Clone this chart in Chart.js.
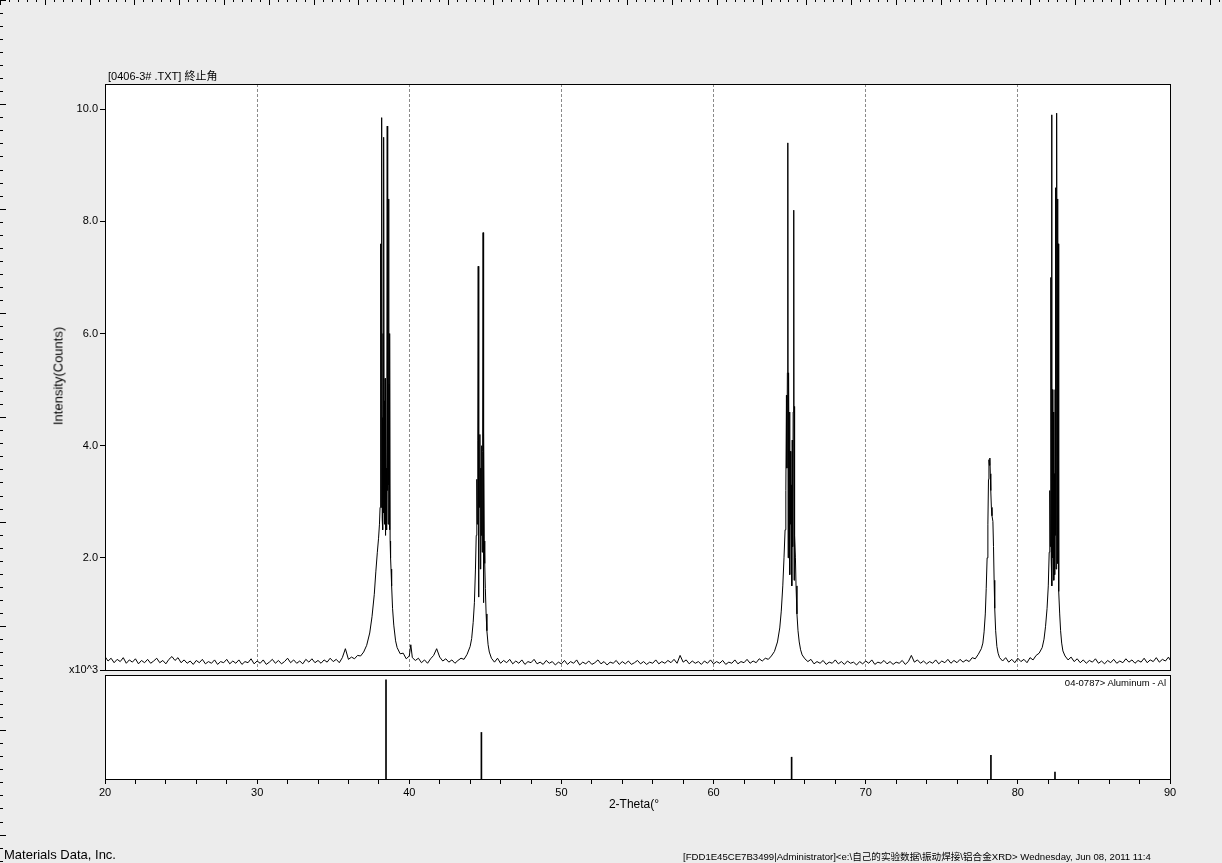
<!DOCTYPE html>
<html>
<head>
<meta charset="utf-8">
<title>XRD scan</title>
<script src="https://cdn.jsdelivr.net/npm/chart.js@4.4.1/dist/chart.umd.min.js"></script>
<style>
  body { margin: 0; background: #ececec; }
  #page { position: relative; width: 1222px; height: 863px; overflow: hidden; background: #ececec;
          font-family: "Liberation Sans", Arial, "Noto Sans CJK SC", sans-serif; color: #000; }
  #page canvas { position: absolute; left: 0; top: 0; }
  .txt { position: absolute; white-space: nowrap; z-index: 5; }
</style>
</head>
<body>
<div id="page">
  <canvas id="scanChart" width="1222" height="863"></canvas>
  <canvas id="refChart" width="1222" height="863"></canvas>

  <div class="txt" style="left:108px; top:70px; font-size:11px; line-height:12px;">[0406-3# .TXT] 終止角</div>
  <div class="txt" style="left:58px; top:376px; font-size:13px; transform:translate(-50%,-50%) rotate(-90deg);">Intensity(Counts)</div>
  <div class="txt" style="left:634px; top:804px; font-size:12px; transform:translate(-50%,-50%);">2-Theta(°</div>
  <div class="txt" style="right:56px; top:677px; font-size:9.5px; line-height:11px;">04-0787&gt; Aluminum - Al</div>
  <div class="txt" style="left:4px; top:848px; font-size:13px; line-height:14px;">Materials Data, Inc.</div>
  <div class="txt" style="left:683px; top:851px; font-size:9.6px; line-height:11px;">[FDD1E45CE7B3499|Administrator]&lt;e:\自己的实验数据\振动焊接\铝合金XRD&gt; Wednesday, Jun 08, 2011 11:4</div>
</div>

<script>
// measured scan, 2-theta (deg) and intensity (x10^3 counts)
const scanTheta = [
  20.0, 20.2, 20.4, 20.6, 20.8, 21.0, 21.2, 21.4, 21.6, 21.8,
  22.0, 22.2, 22.4, 22.6, 22.8, 23.0, 23.2, 23.4, 23.6, 23.8,
  24.0, 24.2, 24.4, 24.6, 24.8, 25.0, 25.2, 25.4, 25.6, 25.8,
  26.0, 26.2, 26.4, 26.6, 26.8, 27.0, 27.2, 27.4, 27.6, 27.8,
  28.0, 28.2, 28.4, 28.6, 28.8, 29.0, 29.2, 29.4, 29.6, 29.8,
  30.0, 30.2, 30.4, 30.6, 30.8, 31.0, 31.2, 31.4, 31.6, 31.8,
  32.0, 32.2, 32.4, 32.6, 32.8, 33.0, 33.2, 33.4, 33.6, 33.8,
  34.0, 34.2, 34.4, 34.6, 34.8, 35.0, 35.2, 35.4, 35.6, 35.8,
  36.0, 36.2, 36.4, 36.6, 36.8,
  37.0, 37.2, 37.4, 37.55, 37.7, 37.8, 37.9, 37.98, 38.04, 38.08,
  38.11, 38.13, 38.15, 38.17, 38.2, 38.22, 38.24, 38.26, 38.28, 38.3,
  38.33, 38.35, 38.37, 38.39, 38.41, 38.43, 38.45, 38.47, 38.5, 38.52,
  38.55, 38.57, 38.59, 38.61, 38.64, 38.66, 38.68, 38.7, 38.72, 38.74,
  38.77, 38.8, 38.84, 38.9, 38.98, 39.1, 39.2, 39.4, 39.6, 39.8,
  40.0, 40.1, 40.2, 40.4, 40.6, 40.8, 41.0, 41.2, 41.4, 41.6,
  41.8, 42.0, 42.2, 42.4, 42.6, 42.8, 43.0, 43.2, 43.4, 43.6,
  43.8, 44.0, 44.1, 44.2, 44.28, 44.35, 44.4, 44.44, 44.47, 44.5,
  44.53, 44.55, 44.58, 44.61, 44.64, 44.67, 44.7, 44.73, 44.76, 44.79,
  44.82, 44.85, 44.87, 44.9, 44.93, 44.96, 45.0, 45.05, 45.1, 45.18,
  45.26, 45.4, 45.6, 45.8, 46.0, 46.2, 46.4, 46.6, 46.8, 47.0,
  47.2, 47.4, 47.6, 47.8, 48.0, 48.2, 48.4, 48.6, 48.8, 49.0,
  49.2, 49.4, 49.6, 49.8, 50.0, 50.2, 50.4, 50.6, 50.8, 51.0,
  51.2, 51.4, 51.6, 51.8, 52.0, 52.2, 52.4, 52.6, 52.8, 53.0,
  53.2, 53.4, 53.6, 53.8, 54.0, 54.2, 54.4, 54.6, 54.8, 55.0,
  55.2, 55.4, 55.6, 55.8, 56.0, 56.2, 56.4, 56.6, 56.8, 57.0,
  57.2, 57.4, 57.6, 57.8, 58.0, 58.2, 58.4, 58.6, 58.8, 59.0,
  59.2, 59.4, 59.6, 59.8, 60.0, 60.2, 60.4, 60.6, 60.8, 61.0,
  61.2, 61.4, 61.6, 61.8, 62.0, 62.2, 62.4, 62.6, 62.8, 63.0,
  63.2, 63.4, 63.6, 63.8, 64.0, 64.2, 64.35, 64.45, 64.55, 64.63,
  64.7, 64.75, 64.79, 64.82, 64.85, 64.88, 64.9, 64.93, 64.96, 64.99,
  65.02, 65.05, 65.08, 65.11, 65.14, 65.17, 65.2, 65.23, 65.27, 65.29,
  65.31, 65.34, 65.38, 65.42, 65.48, 65.55, 65.63, 65.72, 65.82, 66.0,
  66.2, 66.4, 66.6, 66.8, 67.0, 67.2, 67.4, 67.6, 67.8, 68.0,
  68.2, 68.4, 68.6, 68.8, 69.0, 69.2, 69.4, 69.6, 69.8, 70.0,
  70.2, 70.4, 70.6, 70.8, 71.0, 71.2, 71.4, 71.6, 71.8, 72.0,
  72.2, 72.4, 72.6, 72.8, 73.0, 73.2, 73.4, 73.6, 73.8, 74.0,
  74.2, 74.4, 74.6, 74.8, 75.0, 75.2, 75.4, 75.6, 75.8, 76.0,
  76.2, 76.4, 76.6, 76.8, 77.0, 77.2, 77.4, 77.6, 77.7, 77.78,
  77.86, 77.92, 77.98, 78.03, 78.07, 78.1, 78.13, 78.16, 78.19, 78.22,
  78.26, 78.3, 78.36, 78.4, 78.44, 78.48, 78.54, 78.62, 78.7, 78.8,
  79.0, 79.2, 79.4, 79.6, 79.8, 80.0, 80.2, 80.4, 80.6, 80.8,
  81.0, 81.2, 81.4, 81.6, 81.72, 81.82, 81.92, 82.0, 82.06, 82.1,
  82.14, 82.17, 82.19, 82.22, 82.24, 82.27, 82.3, 82.33, 82.36, 82.39,
  82.42, 82.45, 82.47, 82.49, 82.51, 82.53, 82.55, 82.57, 82.59, 82.61,
  82.63, 82.65, 82.67, 82.7, 82.75, 82.81, 82.88, 82.96, 83.1, 83.3,
  83.5, 83.7, 83.9, 84.1, 84.3, 84.5, 84.7, 84.9, 85.1, 85.3,
  85.5, 85.7, 85.9, 86.1, 86.3, 86.5, 86.7, 86.9, 87.1, 87.3,
  87.5, 87.7, 87.9, 88.1, 88.3, 88.5, 88.7, 88.9, 89.1, 89.3,
  89.5, 89.7, 89.9, 90.0
];

const scanCounts = [
  0.24, 0.16, 0.21, 0.13, 0.19, 0.15, 0.22, 0.12, 0.18, 0.14,
  0.20, 0.11, 0.17, 0.13, 0.19, 0.12, 0.16, 0.21, 0.13, 0.17,
  0.11, 0.19, 0.24, 0.17, 0.22, 0.13, 0.18, 0.12, 0.16, 0.10,
  0.17, 0.13, 0.19, 0.11, 0.15, 0.12, 0.18, 0.10, 0.15, 0.13,
  0.19, 0.11, 0.16, 0.12, 0.18, 0.10, 0.15, 0.13, 0.20, 0.11,
  0.16, 0.12, 0.18, 0.10, 0.14, 0.19, 0.12, 0.17, 0.11, 0.15,
  0.21, 0.13, 0.18, 0.12, 0.16, 0.11, 0.19, 0.14, 0.20, 0.13,
  0.17, 0.12, 0.18, 0.14, 0.21, 0.15, 0.19, 0.13, 0.22, 0.38,
  0.19, 0.23, 0.20, 0.26, 0.25,
  0.32, 0.44, 0.66, 0.95, 1.35, 1.75, 2.1, 2.35, 2.6, 2.9,
  4.2, 7.6, 2.9, 5.5, 9.85, 2.7, 4.5, 2.5, 6.0, 2.8,
  9.5, 3.0, 4.8, 2.6, 5.2, 2.4, 4.0, 2.7, 3.6, 2.5,
  9.7, 3.2, 4.9, 2.6, 8.4, 3.3, 5.1, 2.5, 6.0, 2.3,
  2.0, 1.8, 1.5, 1.1, 0.80, 0.52, 0.40, 0.29, 0.30, 0.20,
  0.25, 0.45, 0.22, 0.17, 0.21, 0.13, 0.18, 0.12, 0.20, 0.26,
  0.38, 0.23, 0.16, 0.20, 0.14, 0.18, 0.12, 0.17, 0.21, 0.19,
  0.28, 0.42, 0.56, 0.85, 1.2, 1.8, 2.4, 3.4, 2.6, 4.1,
  7.2, 1.3, 4.0, 2.9, 4.2, 1.8, 3.6, 2.4, 4.0, 2.1,
  3.9, 7.8, 1.2, 4.25, 2.3, 1.9, 1.45, 1.0, 0.70, 0.45,
  0.32, 0.21, 0.14, 0.21, 0.12, 0.17, 0.13, 0.19, 0.11, 0.16,
  0.12, 0.18, 0.10, 0.15, 0.13, 0.19, 0.11, 0.14, 0.10, 0.17,
  0.12, 0.15, 0.09, 0.14, 0.11, 0.17, 0.10, 0.15, 0.12, 0.18,
  0.09, 0.14, 0.11, 0.16, 0.10, 0.13, 0.18, 0.11, 0.15, 0.09,
  0.14, 0.12, 0.17, 0.10, 0.15, 0.11, 0.16, 0.10, 0.13, 0.17,
  0.11, 0.15, 0.10, 0.14, 0.12, 0.18, 0.11, 0.15, 0.12, 0.17,
  0.13, 0.19, 0.12, 0.26, 0.14, 0.18, 0.11, 0.16, 0.12, 0.15,
  0.10, 0.16, 0.12, 0.18, 0.11, 0.15, 0.12, 0.17, 0.10, 0.14,
  0.12, 0.18, 0.11, 0.15, 0.13, 0.19, 0.12, 0.16, 0.13, 0.20,
  0.16, 0.21, 0.19, 0.25, 0.33, 0.50, 0.75, 1.05, 1.5, 2.0,
  2.5, 3.2, 4.9, 3.6, 5.3, 9.4, 2.0, 5.3, 3.4, 4.6,
  1.7, 3.9, 2.6, 3.3, 1.5, 4.1, 2.2, 4.6, 8.2, 1.6,
  4.7, 2.4, 2.0, 1.5, 1.0, 0.70, 0.50, 0.36, 0.27, 0.20,
  0.15, 0.19, 0.11, 0.15, 0.12, 0.17, 0.10, 0.14, 0.12, 0.18,
  0.11, 0.15, 0.10, 0.16, 0.12, 0.14, 0.09, 0.15, 0.11, 0.16,
  0.12, 0.18, 0.10, 0.14, 0.12, 0.17, 0.11, 0.15, 0.10, 0.14,
  0.12, 0.17, 0.10, 0.15, 0.26, 0.14, 0.18, 0.12, 0.16, 0.11,
  0.15, 0.12, 0.18, 0.11, 0.16, 0.13, 0.19, 0.12, 0.17, 0.13,
  0.19, 0.14, 0.18, 0.15, 0.22, 0.20, 0.28, 0.38, 0.48, 0.68,
  1.0, 1.45, 2.0, 2.6, 3.4, 3.75, 3.65, 3.78, 3.5, 3.2,
  2.9, 2.75, 2.65, 2.2, 1.6, 1.1, 0.70, 0.42, 0.30, 0.22,
  0.16, 0.22, 0.14, 0.19, 0.13, 0.21, 0.15, 0.19, 0.13, 0.22,
  0.18, 0.26, 0.30, 0.40, 0.55, 0.78, 1.1, 1.5, 2.1, 3.2,
  2.2, 7.0, 2.0, 9.9, 1.5, 5.0, 2.0, 4.6, 1.6, 3.5,
  1.7, 5.0, 2.4, 8.6, 1.8, 9.0, 2.3, 9.93, 2.6, 8.4,
  1.9, 7.6, 1.8, 1.4, 1.0, 0.70, 0.48, 0.34, 0.25, 0.18,
  0.23, 0.15, 0.20, 0.13, 0.18, 0.12, 0.17, 0.14, 0.20, 0.12,
  0.16, 0.11, 0.17, 0.13, 0.19, 0.12, 0.16, 0.13, 0.20, 0.14,
  0.18, 0.12, 0.17, 0.14, 0.21, 0.13, 0.18, 0.15, 0.22, 0.14,
  0.19, 0.16, 0.23, 0.18
];

// reference card 04-0787 Aluminum, relative intensity
const refTheta = [38.47, 44.74, 65.13, 78.23, 82.44];
const refIntensity = [100, 47, 22, 24, 7];

const xTickValues = [20, 30, 40, 50, 60, 70, 80, 90];
const yTickValues = [0, 2, 4, 6, 8, 10];
const yTickLabels = ["x10^3", "2.0", "4.0", "6.0", "8.0", "10.0"];

const tickFont = { family: "'Liberation Sans', Arial, sans-serif", size: 11 };

// white plot area + black frame
const plotFrame = {
    id: "plotFrame",
    beforeDraw(chart) {
        const a = chart.chartArea;
        const ctx = chart.ctx;
        ctx.save();
        ctx.fillStyle = "#fff";
        ctx.fillRect(a.left, a.top, a.right - a.left, a.bottom - a.top);
        ctx.restore();
    },
    afterDraw(chart) {
        const a = chart.chartArea;
        const ctx = chart.ctx;
        ctx.save();
        ctx.strokeStyle = "#000";
        ctx.lineWidth = 1;
        ctx.strokeRect(Math.round(a.left) + 0.5, Math.round(a.top) + 0.5,
            Math.round(a.right - a.left), Math.round(a.bottom - a.top));
        ctx.restore();
    }
};

// window rulers along the top and left edge
const rulers = {
    id: "rulers",
    beforeDraw(chart) {
        const ctx = chart.ctx;
        ctx.save();
        ctx.strokeStyle = "#000";
        ctx.lineWidth = 1;
        ctx.beginPath();
        for (let i = 0; i * 8.96 < 1222; i++) {
            const x = Math.round(i * 8.96) + 0.5;
            ctx.moveTo(x, 0);
            ctx.lineTo(x, i % 5 === 0 ? 5 : 2);
        }
        for (let i = 0; i * 13.04 < 863; i++) {
            const y = Math.round(i * 13.04) + 0.5;
            ctx.moveTo(0, y);
            ctx.lineTo(i % 8 === 0 ? 6 : 3, y);
        }
        ctx.stroke();
        ctx.restore();
    }
};

const scanPoints = scanTheta.map((t, i) => ({ x: t, y: scanCounts[i] }));
const refPoints = refTheta.map((t, i) => ({ x: t, y: refIntensity[i] }));

new Chart(document.getElementById("scanChart"), {
    type: "scatter",
    data: {
        datasets: [{
            data: scanPoints,
            showLine: true,
            borderColor: "#000",
            borderWidth: 1,
            pointRadius: 0,
            tension: 0
        }]
    },
    options: {
        responsive: false,
        animation: false,
        layout: { padding: { left: 0, top: 84, right: 52, bottom: 193 } },
        plugins: {
            legend: { display: false },
            tooltip: { enabled: false }
        },
        scales: {
            x: {
                type: "linear",
                min: 20,
                max: 90,
                afterBuildTicks: s => { s.ticks = xTickValues.map(v => ({ value: v })); },
                ticks: { display: false },
                grid: {
                    drawTicks: false,
                    color: c => (c.tick && c.tick.value > 20 && c.tick.value < 90) ? "#8a8a8a" : "rgba(0,0,0,0)"
                },
                border: { display: false, dash: [3, 2] },
                afterFit: s => { s.height = 0; }
            },
            y: {
                min: 0,
                max: 10.45,
                afterBuildTicks: s => { s.ticks = yTickValues.map(v => ({ value: v })); },
                ticks: {
                    color: "#000",
                    font: tickFont,
                    padding: 2,
                    callback: (v, i) => yTickLabels[i]
                },
                grid: { drawOnChartArea: false, tickLength: 5, color: "#000" },
                border: { display: false },
                afterFit: s => { s.width = 105; }
            }
        }
    },
    plugins: [plotFrame]
});

new Chart(document.getElementById("refChart"), {
    type: "bar",
    data: {
        datasets: [{
            data: refPoints,
            backgroundColor: "#000",
            borderWidth: 0,
            barThickness: 1
        }]
    },
    options: {
        responsive: false,
        animation: false,
        layout: { padding: { left: 105, top: 675, right: 52, bottom: 54 } },
        plugins: {
            legend: { display: false },
            tooltip: { enabled: false }
        },
        scales: {
            x: {
                type: "linear",
                min: 20,
                max: 90,
                offset: false,
                ticks: {
                    stepSize: 2,
                    autoSkip: false,
                    maxRotation: 0,
                    color: "#000",
                    font: tickFont,
                    padding: 2,
                    callback: v => xTickValues.includes(v) ? String(v) : ""
                },
                grid: { offset: false, drawOnChartArea: false, tickLength: 5, color: "#000" },
                border: { display: false },
                afterFit: s => { s.height = 30; }
            },
            y: { display: false, min: 0, max: 105 }
        }
    },
    plugins: [plotFrame, rulers]
});
</script>
</body>
</html>
